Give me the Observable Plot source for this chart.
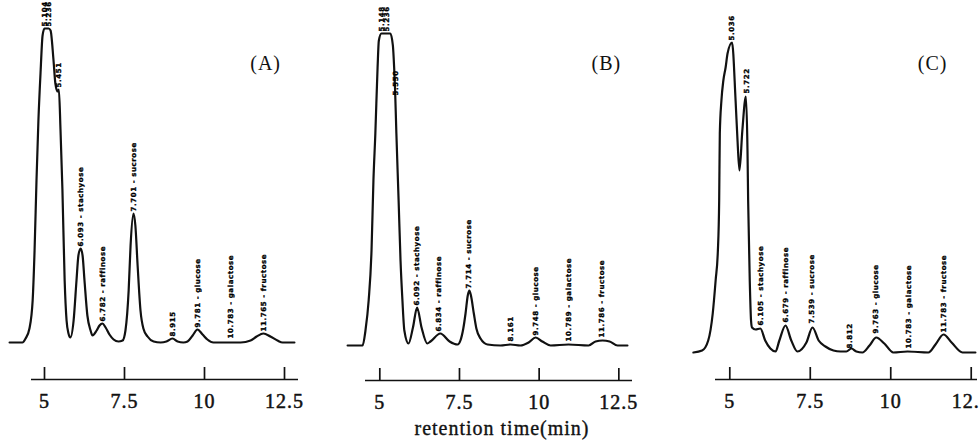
<!DOCTYPE html>
<html><head><meta charset="utf-8">
<script src="https://cdn.jsdelivr.net/npm/d3@7"></script>
<script src="https://cdn.jsdelivr.net/npm/@observablehq/plot@0.6"></script>
<style>
html,body{margin:0;padding:0;background:#fff;overflow:hidden;width:979px;height:440px}
#wrap{position:relative;width:979px;height:440px;overflow:hidden}
.panel{position:absolute;top:0}
</style></head>
<body><div id="wrap"></div>
<script>
// ---- data (retention time in min, detector signal in arbitrary units) ----
const panelNames = ["(A)", "(B)", "(C)"];
const axisTitle = "retention time(min)";
const xTicks = [5, 7.5, 10, 12.5];

const timeA = [3.91,4.31,4.41,4.53,4.63,4.69,4.75,4.81,4.88,4.94,5.0,5.13,5.19,5.28,5.34,5.41,5.45,5.5,5.56,5.63,5.69,5.75,5.81,5.91,6.0,6.06,6.13,6.19,6.25,6.34,6.44,6.5,6.63,6.72,6.81,6.91,7.03,7.16,7.31,7.44,7.53,7.63,7.69,7.78,7.84,7.91,8.0,8.09,8.22,8.41,8.63,8.81,9.0,9.16,9.34,9.47,9.63,9.78,9.94,10.09,10.28,11.13,11.44,11.63,11.84,12.06,12.28,12.44,12.81];
const signalA = [37,37,41,51,79,129,199,259,309,344,351,351,349,320,296,288,290,250,190,99,59,46,42,59,99,124,131,124,99,64,49,44,49,54,56,52,45,40,38,39,49,89,134,166,154,114,69,51,43,38,37,38,41,38,37,38,44,50,45,40,37,37,39,43,46,43,39,37,37];
const peakTimeA = [5.0,5.13,5.45,6.13,6.81,7.78,9.0,9.78,10.81,11.84];
const peakSignalA = [351,351,290,131,56,166,41,50,39,46];
const peakLabelA = ["5.104","5.236","5.451","6.093 - stachyose","6.782 - raffinose","7.701 - sucrose","8.915","9.781 - glucose","10.783 - galactose","11.765 - fructose"];

const timeB = [3.99,4.46,4.55,4.65,4.74,4.80,4.86,4.93,4.97,5.05,5.33,5.41,5.45,5.48,5.52,5.59,5.65,5.71,5.77,5.90,6.04,6.17,6.31,6.49,6.59,6.90,7.19,7.44,7.53,7.62,7.69,7.76,7.81,7.86,7.95,8.03,8.16,8.38,8.79,9.10,9.41,9.67,9.89,10.10,10.36,10.92,11.55,11.77,11.99,12.21,12.46,12.77];
const signalB = [35,35,50,80,130,200,247,313,340,347,347,335,313,290,247,180,120,80,50,37,53,73,53,37,39,47,39,36,40,52,67,85,90,85,67,52,42,36,35,36,35,38,43,39,35,36,35,39,40,39,35,35];
const peakTimeB = [5.07,5.21,5.50,6.15,6.86,7.79,9.10,9.89,10.92,11.96];
const peakSignalB = [347,347,283,73,47,90,37,43,37,41];
const peakLabelB = ["5.148","5.236","5.550","6.092 - stachyose","6.834 - raffinose","7.714 - sucrose","8.161","9.748 - glucose","10.789 - galactose","11.786 - fructose"];

const timeC = [3.87,4.14,4.33,4.47,4.56,4.63,4.67,4.69,4.74,4.80,4.87,4.93,5.07,5.18,5.24,5.30,5.39,5.50,5.55,5.57,5.62,5.66,5.69,5.80,5.95,6.10,6.26,6.42,6.54,6.73,6.91,7.10,7.38,7.57,7.76,7.97,8.22,8.44,8.62,8.78,8.93,9.12,9.34,9.55,9.80,10.08,10.52,11.17,11.39,11.64,11.89,12.23,12.63];
const signalC = [27,29,39,66,99,129,179,246,279,299,312,326,337,279,239,209,249,283,229,179,99,59,52,50,51,39,31,28,39,54,39,28,37,52,39,33,29,28,28,31,28,27,34,42,36,27,28,27,35,45,37,27,27];
const peakTimeC = [5.05,5.52,5.95,6.73,7.56,8.74,9.54,10.55,11.66];
const peakSignalC = [337,284,52,55,54,29,44,29,45];
const peakLabelC = ["5.036","5.722","6.105 - stachyose","6.679 - raffinose","7.539 - sucrose","8.812","9.763 - glucose","10.783 - galactose","11.783 - fructose"];

// ---- layout (not data) ----
const layout = [
  {left: 0,   width: 330, marginLeft: 31, marginRight: 32, marginBottom: 61, domain: [4.594, 12.9375], nameAt: [11.91, 316], title: false},
  {left: 330, width: 330, marginLeft: 35, marginRight: 28, marginBottom: 60, domain: [4.551, 12.929], nameAt: [12.11, 317], title: true},
  {left: 660, width: 319, marginLeft: 55, marginRight: 2,  marginBottom: 61, domain: [4.556, 12.695], nameAt: [11.30, 316], title: false}
];
const series = [
  [timeA, signalA, peakTimeA, peakSignalA, peakLabelA],
  [timeB, signalB, peakTimeB, peakSignalB, peakLabelB],
  [timeC, signalC, peakTimeC, peakSignalC, peakLabelC]
];

const H = 440, SPAN = 360;
const serif = "'Liberation Serif', 'Times New Roman', serif";
const wrap = document.getElementById("wrap");

series.forEach(([time, signal, pt, ps, pl], i) => {
  const L = layout[i];
  const curve = time.map((t, j) => ({t, s: signal[j]}));
  const peaks = pt.map((t, j) => ({t, s: ps[j], label: pl[j]}));
  const marks = [
    Plot.ruleY([0], {strokeWidth: 1.7, stroke: "#111"}),
    Plot.ruleX(xTicks, {x: d => d, y1: 0, y2: 12, strokeWidth: 1.7, stroke: "#111"}),
    Plot.text(xTicks, {x: d => d, text: d => String(d), frameAnchor: "bottom", dy: 22, lineAnchor: "middle",
      fontSize: 20, fontFamily: serif, fill: "#111", stroke: "#111", strokeWidth: 0.5}),
    Plot.line(curve, {x: "t", y: "s", curve: "monotone-x", stroke: "#111", strokeWidth: 2.2}),
    Plot.text(peaks, {x: "t", y: "s", text: "label", rotate: -90, textAnchor: "start", lineAnchor: "middle", dy: -2,
      fontSize: 7, fontWeight: "bold", fontFamily: "'DejaVu Sans', sans-serif", fill: "#000", stroke: "#000", strokeWidth: 0.3}),
    Plot.text([panelNames[i]], {x: () => L.nameAt[0], y: () => L.nameAt[1], fontSize: 20, fontFamily: serif, fill: "#111"})
  ];
  if (L.title) marks.push(Plot.text([axisTitle], {frameAnchor: "bottom", dy: 48, dx: 3, lineAnchor: "middle",
    fontSize: 20, fontFamily: serif, fill: "#111", stroke: "#111", strokeWidth: 0.35}));
  const svg = Plot.plot({
    width: L.width, height: H,
    marginLeft: L.marginLeft, marginRight: L.marginRight,
    marginBottom: L.marginBottom, marginTop: H - L.marginBottom - SPAN,
    x: {domain: L.domain, axis: null},
    y: {domain: [0, SPAN], axis: null},
    style: {background: "transparent", overflow: "visible"},
    marks
  });
  d3.select(svg).selectAll('g[font-size="20"]').attr("letter-spacing", "1px");
  d3.select(svg).selectAll('g[font-size="7"]').attr("letter-spacing", "0.6px");
  const div = document.createElement("div");
  div.className = "panel";
  div.style.left = L.left + "px";
  div.appendChild(svg);
  wrap.appendChild(div);
});
</script>
</body></html>
